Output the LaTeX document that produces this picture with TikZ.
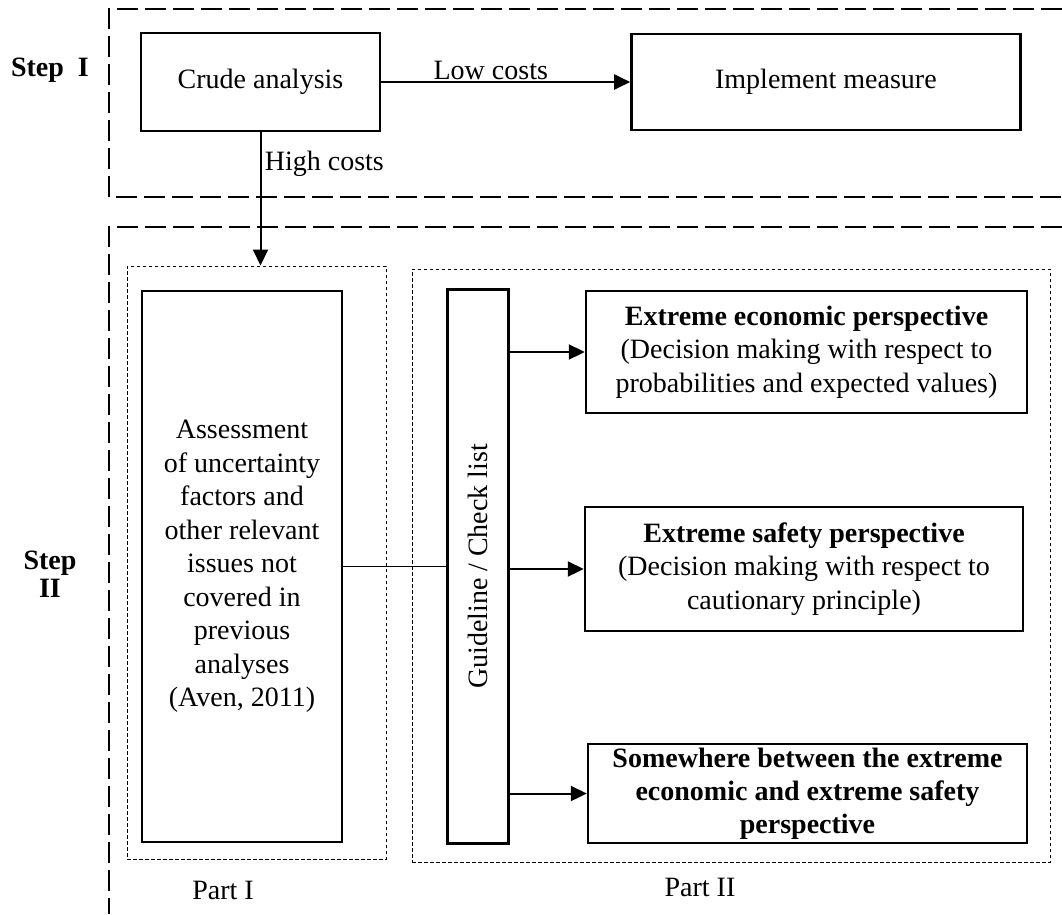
\documentclass[tikz,border=0pt]{standalone}
\usepackage{fontspec}
\setmainfont{Liberation Serif}
\usetikzlibrary{positioning, arrows.meta}

\begin{document}
\begin{tikzpicture}[x=1pt, y=-1pt, node distance=20pt,
        every node/.style={font=\fontsize{28}{33.5}\selectfont},
        block/.style={draw, line width=2.4pt, rectangle, text centered, inner sep=2pt},
        tallbox/.style={block, align=center},
        stepframe/.style={line width=2.6pt, dash pattern=on 21pt off 7pt},
        partframe/.style={draw, line width=1pt, dash pattern=on 3.5pt off 2.5pt, rectangle, inner sep=0pt},
        steplabel/.style={font=\fontsize{28}{28}\selectfont\bfseries, align=center},
        arrow/.style={line width=2pt, -{Triangle[length=16pt, width=15pt]}}
    ]
        \useasboundingbox (0,0) rectangle (1062,914);
        % the two step frames run off the right edge
        \draw [stepframe] (1062,9) -- (109,9) -- (109,197) -- (1062,197);
        \draw [stepframe] (1062,227) -- (109,227) -- (109,914);
        \node (stepone) [steplabel] at (50,70) {Step\ \ I};
        \node (steptwo) [steplabel] at (50,574) {Step\\II};
        % step I
        \node (crude) [block, minimum width=239pt, minimum height=98pt] at (260.5,82) {Crude analysis};
        \node (implement) [block, minimum width=389pt, minimum height=96pt, right=249pt of crude] {Implement measure};
        \draw [arrow] (crude) -- node[above, pos=0.44, inner sep=1pt] (lowcost) {Low costs} (implement);
        % step II
        \node (partone) [partframe, minimum width=259pt, minimum height=593pt] at (256.5,562.5) {};
        \node (parttwo) [partframe, minimum width=638pt, minimum height=593pt] at (731,565.5) {};
        \draw [arrow] (crude.south) -- node[right, pos=0.24] (highcost) {High costs} (crude.south |- partone.north);
        \node (assess) [tallbox, minimum width=200pt, minimum height=551pt] at (242,566.5) {Assessment\\of uncertainty\\factors and\\other relevant\\issues not\\covered in\\previous\\analyses\\(Aven, 2011)};
        \node (guide) [block, minimum width=61pt, minimum height=554pt, right=103pt of assess] {\rotatebox{90}{Guideline / Check list}};
        \node (econ) [tallbox, minimum width=441pt, minimum height=122pt] at (806.5,352) {\textbf{Extreme economic perspective}\\(Decision making with respect to\\probabilities and expected values)};
        \node (safety) [tallbox, minimum width=438pt, minimum height=124pt] at (804,569) {\textbf{Extreme safety perspective}\\(Decision making with respect to\\cautionary principle)};
        \node (between) [tallbox, minimum width=439pt, minimum height=99pt, font=\fontsize{28}{33}\selectfont\bfseries] at (807.5,793.5) {Somewhere between the extreme\\economic and extreme safety\\perspective};
        \draw [line width=1.6pt] (assess) -- (guide);
        \draw [arrow] (guide.east |- econ) -- (econ);
        \draw [arrow] (guide.east |- safety) -- (safety);
        \draw [arrow] (guide.east |- between) -- (between);
        \node (partonename) at (223,890) {Part I};
        \node (parttwoname) at (700,887) {Part II};
    \end{tikzpicture}
\end{document}
